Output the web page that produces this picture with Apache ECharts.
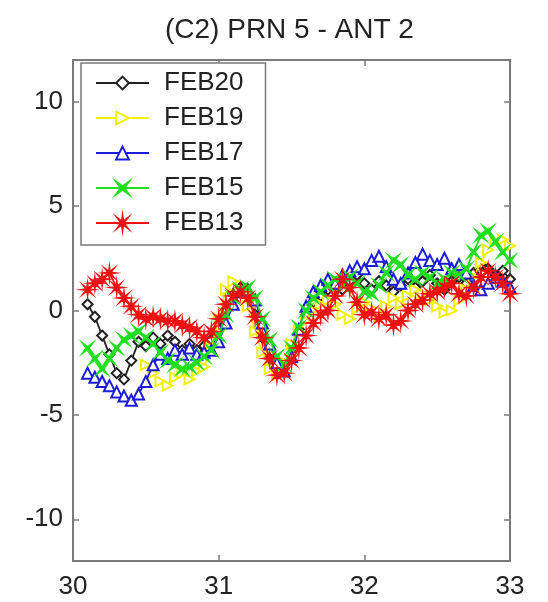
<!DOCTYPE html>
<html>
<head>
<meta charset="utf-8">
<script src="https://cdn.jsdelivr.net/npm/echarts@6/dist/echarts.min.js"></script>
<style>
  html, body { margin: 0; padding: 0; background: #fff; }
  #chart { width: 548px; height: 602px; }
</style>
</head>
<body>
<div id="chart"></div>
<script>
// Sample positions shared by all five days (x step 0.05)
const xs = [30.10,30.15,30.20,30.25,30.30,30.35,30.40,30.45,30.50,30.55,
            30.60,30.65,30.70,30.75,30.80,30.85,30.90,30.95,31.00,31.05,
            31.10,31.15,31.20,31.25,31.30,31.35,31.40,31.45,31.50,31.55,
            31.60,31.65,31.70,31.75,31.80,31.85,31.90,31.95,32.00,32.05,
            32.10,32.15,32.20,32.25,32.30,32.35,32.40,32.45,32.50,32.55,
            32.60,32.65,32.70,32.75,32.80,32.85,32.90,32.95,33.00];

const feb20 = [0.3,-0.3,-1.2,-2.1,-3.0,-3.3,-2.4,-1.5,-1.7,-1.3,
               -1.6,-1.2,-1.5,-1.9,-1.6,-1.9,-1.7,-1.4,-0.9,0.0,
               0.8,1.1,0.7,-0.2,-1.3,-2.3,-2.9,-2.6,-1.7,-0.9,
               -0.2,0.4,0.7,1.0,1.3,1.0,1.4,1.7,1.3,1.0,
               1.4,1.2,0.9,1.2,1.5,1.1,1.4,1.7,1.3,1.0,
               1.4,1.6,1.3,1.8,2.2,2.0,1.7,1.9,1.5];

const feb19 = [null,null,null,null,null,null,null,null,-2.6,-3.0,
               -3.4,-3.6,-3.2,-3.0,-3.3,-2.9,-2.7,-1.8,-0.4,1.0,
               1.4,1.0,0.2,-1.0,-2.0,-2.8,-3.1,-2.5,-1.6,-1.0,
               -0.5,0.0,0.3,0.5,0.3,-0.2,-0.4,0.1,0.4,0.1,
               -0.3,0.2,0.6,0.3,0.7,1.0,0.8,0.5,0.2,-0.1,
               0.0,0.5,1.0,1.6,2.3,2.9,3.3,3.4,3.1];

const feb17 = [-3.0,-3.2,-3.4,-3.6,-3.9,-4.1,-4.3,-4.0,-3.4,-2.6,
               -2.1,-2.3,-1.9,-2.1,-1.8,-2.1,-2.0,-1.9,-1.5,-0.6,
               0.3,0.9,1.0,0.5,-0.6,-1.6,-2.5,-2.9,-2.2,-0.9,
               0.2,0.9,1.2,1.5,1.3,1.7,1.9,2.1,2.0,2.4,
               2.6,2.1,1.5,1.3,1.8,2.3,2.7,2.4,2.2,2.5,
               2.0,2.2,1.8,1.2,1.0,1.3,1.6,1.4,1.1];

const feb15 = [-1.8,-2.3,-2.8,-2.3,-1.8,-1.4,-1.2,-1.0,-1.3,-1.6,
               -2.0,-2.4,-2.6,-2.8,-2.7,-2.5,-2.2,-1.9,-1.2,-0.2,
               0.6,1.0,1.1,0.6,-0.4,-1.4,-2.2,-2.6,-1.8,-0.8,
               0.0,0.6,0.9,1.2,1.5,1.2,1.6,1.3,0.9,0.8,
               1.2,1.8,2.4,2.2,1.7,1.5,1.8,1.6,1.3,1.5,
               1.8,1.7,2.0,2.8,3.6,3.8,3.3,2.8,2.4];

const feb13 = [1.0,1.3,1.5,1.8,1.1,0.6,0.2,-0.2,-0.4,-0.3,
               -0.4,-0.5,-0.5,-0.7,-0.8,-1.0,-1.3,-1.0,-0.4,0.3,
               0.7,0.9,0.6,-0.3,-1.3,-2.3,-3.1,-3.0,-2.4,-1.8,
               -1.2,-0.6,-0.2,0.0,0.7,1.5,1.1,0.4,-0.2,-0.1,
               -0.4,-0.2,-0.7,-0.5,0.0,0.3,0.5,0.8,0.9,1.1,
               1.3,0.8,0.7,1.1,1.6,1.9,1.6,1.3,0.8];

const seriesNames = ['FEB20', 'FEB19', 'FEB17', 'FEB15', 'FEB13'];
const xTicks = [30, 31, 32, 33];
const yTicks = [-10, -5, 0, 5, 10];

// Marker shapes: diamond, right triangle, up triangle, cross, asterisk
const crossPath = 'path://M8.54,1.46 L6,5 L8.54,8.54 L5,6 L1.46,8.54 L4,5 L1.46,1.46 L5,4 Z';
const starPath = 'path://M10,5 L6.2,5.5 L8.54,8.54 L5.5,6.2 L5,10 L4.5,6.2 L1.46,8.54 L3.8,5.5 L0,5 L3.8,4.5 L1.46,1.46 L4.5,3.8 L5,0 L5.5,3.8 L8.54,1.46 L6.2,4.5 Z';

const styles = [
  { color: '#222222', symbol: 'emptyDiamond', size: 10, rotate: 0 },
  { color: '#f2f200', symbol: 'emptyTriangle', size: 10, rotate: -90 },
  { color: '#1c1cd8', symbol: 'emptyTriangle', size: 11, rotate: 0 },
  { color: '#22dd22', symbol: crossPath, size: 11, rotate: 0 },
  { color: '#ee1111', symbol: starPath, size: 13, rotate: 0 }
];

const values = [feb20, feb19, feb17, feb15, feb13];

function pairs(v) {
  const out = [];
  for (let i = 0; i < xs.length; i++) {
    if (v[i] !== null) out.push([xs[i], v[i]]);
  }
  return out;
}

const FONT = 'Liberation Sans, Arial, sans-serif';
const AXIS_COLOR = '#7a7a7a';

const chart = echarts.init(document.getElementById('chart'), null, { renderer: 'canvas' });

const series = seriesNames.map((name, k) => ({
  name: name,
  type: 'line',
  xAxisIndex: 0,
  yAxisIndex: 0,
  data: pairs(values[k]),
  symbol: styles[k].symbol,
  symbolSize: styles[k].size,
  symbolRotate: styles[k].rotate,
  showAllSymbol: true,
  animation: false,
  z: 2 + k,
  lineStyle: { color: styles[k].color, width: 1.8 },
  itemStyle: { color: styles[k].color, borderColor: styles[k].color, borderWidth: 1.5 },
  emphasis: { disabled: true }
}));

const tickCommon = { show: true, inside: true, length: 6, lineStyle: { color: AXIS_COLOR, width: 1.5 } };
const lineCommon = { show: true, onZero: false, lineStyle: { color: AXIS_COLOR, width: 2 } };

chart.setOption({
  backgroundColor: '#ffffff',
  animation: false,
  title: {
    text: '(C2) PRN 5 - ANT 2',
    left: 160,
    top: 11,
    textStyle: { fontFamily: FONT, fontSize: 28, fontWeight: 'normal', color: '#222' }
  },
  legend: {
    orient: 'vertical',
    left: 81,
    top: 63,
    padding: [6, 22, 8, 14],
    itemWidth: 53,
    itemHeight: 16,
    itemGap: 7,
    backgroundColor: '#ffffff',
    borderColor: AXIS_COLOR,
    borderWidth: 1.5,
    textStyle: { fontFamily: FONT, fontSize: 26, color: '#222', lineHeight: 28, padding: [0, 0, 0, 10] },
    data: seriesNames
  },
  grid: {
    left: 73, right: 38, top: 60, bottom: 41,
    show: true, borderColor: AXIS_COLOR, borderWidth: 2, backgroundColor: '#fff'
  },
  xAxis: [
    {
      type: 'value', min: 30, max: 33, interval: 1, position: 'bottom',
      axisLine: lineCommon,
      axisTick: Object.assign({ customValues: xTicks }, tickCommon),
      axisLabel: { customValues: xTicks, margin: 13, fontFamily: FONT, fontSize: 26, color: '#222' },
      splitLine: { show: false }
    },
    {
      type: 'value', min: 30, max: 33, interval: 1, position: 'top',
      axisLine: lineCommon,
      axisTick: Object.assign({ customValues: xTicks }, tickCommon),
      axisLabel: { show: false },
      splitLine: { show: false }
    }
  ],
  yAxis: [
    {
      type: 'value', min: -12, max: 12, position: 'left',
      axisLine: lineCommon,
      axisTick: Object.assign({ customValues: yTicks }, tickCommon),
      axisLabel: { customValues: yTicks, margin: 10, fontFamily: FONT, fontSize: 26, color: '#222' },
      splitLine: { show: false }
    },
    {
      type: 'value', min: -12, max: 12, position: 'right',
      axisLine: lineCommon,
      axisTick: Object.assign({ customValues: yTicks }, tickCommon),
      axisLabel: { show: false },
      splitLine: { show: false }
    }
  ],
  series: series
});
</script>
</body>
</html>
